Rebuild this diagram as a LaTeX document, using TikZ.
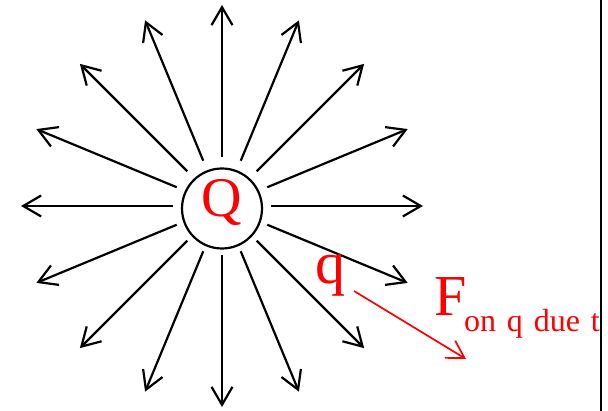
\documentclass[tikz,border=0pt]{standalone}
\usepackage{fontspec}
\setmainfont{Liberation Serif}
\usetikzlibrary{arrows.meta, calc}
\definecolor{chargered}{RGB}{255, 0, 0}
\definecolor{fieldblack}{RGB}{0, 0, 0}
\newcommand{\subfont}{\fontsize{32}{32}\selectfont\spaceskip=0.34em\relax}

\begin{document}
\begin{tikzpicture}[
    x=1pt, y=-1pt,
    >={Straight Barb[length=18pt, width=21pt]},
    line width=2.2pt,
    redtext/.style={text=chargered, inner sep=0pt, anchor=base west},
]
    \useasboundingbox (0,0) rectangle (608,411);
    % --- Source charge Q ---
    \coordinate (C) at (222,206);
    \node[circle, draw=fieldblack, minimum size=80pt, inner sep=0pt] (Q) at (222,208.5) {};
    \node[text=chargered, inner sep=0pt, anchor=base, font=\fontsize{56}{56}\selectfont] (Qlabel) at (222,217) {Q};
    % --- Field lines ---
    \foreach \i in {0,...,15} {
        \coordinate (s\i) at ($(C)+(\i*22.5:49)$);
        \coordinate (e\i) at ($(C)+(\i*22.5:201)$);
        \draw[->, fieldblack] (s\i) -- (e\i);
    }
    % --- Test charge q and force ---
    \node[redtext, font=\fontsize{60}{60}\selectfont] (qlabel) at (314,284) {q};
    \coordinate (Fs) at (354,291);
    \coordinate (Fe) at (466,359);
    \draw[->, chargered, line width=1.7pt, >={Straight Barb[length=17pt, width=20pt]}] (Fs) -- (Fe);
    \begin{scope}
        \clip (0,0) rectangle (600,411);
        \node[redtext, font=\fontsize{58}{58}\selectfont] (Flabel) at (433,316) {F};
        \node[redtext, font=\subfont] (Fsub) at (463,331.5) {on q due to};
    \end{scope}
    % --- Frame edge ---
    \coordinate (Et) at (600.7,0);
    \coordinate (Eb) at (600.7,411);
    \draw[fieldblack, line width=2pt] (Et) -- (Eb);
\end{tikzpicture}
\end{document}
